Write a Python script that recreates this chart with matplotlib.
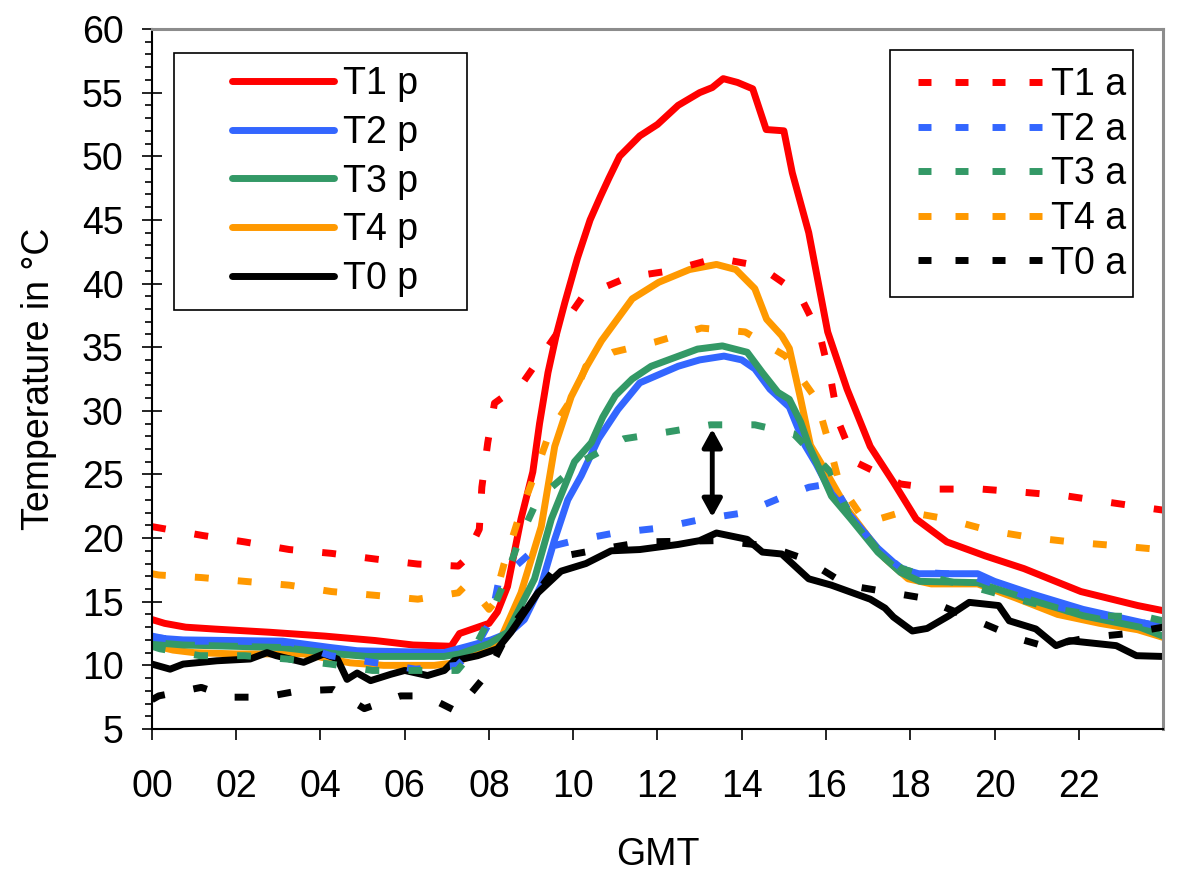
import matplotlib
matplotlib.use('Agg')
import matplotlib.pyplot as plt
from matplotlib.lines import Line2D
from matplotlib.patches import Rectangle
from matplotlib.ticker import MultipleLocator

plt.rcParams['font.family'] = ['Liberation Sans', 'DejaVu Sans']

# hours (GMT) and temperatures
t1p_h = [0, 0.3, 0.8, 1.5, 2.8, 4.1, 5.3, 6.2, 7.1, 7.3, 7.65, 8.0, 8.2, 8.44, 8.76, 9.04, 9.2, 9.4,
         9.6, 9.8, 10.1, 10.4, 10.64, 10.85, 11.1, 11.58, 12.0, 12.49, 13.0, 13.3, 13.56, 13.9, 14.26, 14.58,
         15.0, 15.2, 15.59, 16.04, 16.5, 17.05, 17.6, 18.14, 18.87, 19.78, 20.7, 22.05, 23.4, 24.0]
t1p_t = [13.6, 13.3, 13.0, 12.85, 12.6, 12.3, 11.95, 11.6, 11.5, 12.5, 12.9, 13.3, 14.2, 16.2, 21.5,
         25.2, 29.0, 33.0, 36.0, 38.5, 42.0, 45.0, 46.8, 48.3, 50.0, 51.6, 52.5, 54.0, 55.0, 55.4, 56.1, 55.8,
         55.3, 52.1, 52.0, 48.7, 44.0, 36.2, 31.7, 27.2, 24.4, 21.5, 19.7, 18.6, 17.6, 15.8, 14.7, 14.3]

t2p_h = [0, 0.3, 0.74, 3.1, 4.24, 4.87, 6.93, 7.5, 8.05, 8.5, 8.84, 9.24, 9.56, 9.87, 10.19, 10.6,
         11.06, 11.58, 12.49, 13.0, 13.58, 14.0, 14.31, 14.67, 15.13, 15.5, 15.77, 16.13, 16.59, 17.23,
         17.77, 18.2, 19.6, 20.0, 20.9, 22.1, 23.45, 24.0]
t2p_t = [12.3, 12.1, 12.0, 11.9, 11.4, 11.15, 11.0, 11.5, 12.0, 12.6, 13.6, 16.3, 19.9, 23.0, 24.9,
         27.8, 30.1, 32.2, 33.5, 34.0, 34.3, 34.0, 33.3, 31.7, 30.3, 27.3, 25.8, 23.5, 21.7, 19.2,
         17.6, 17.2, 17.2, 16.6, 15.6, 14.4, 13.4, 13.0]

t3p_h = [0, 0.74, 3.1, 4.4, 5.1, 6.93, 7.3, 7.65, 8.0, 8.44, 9.08, 9.48, 10.03, 10.43, 10.7, 11.0,
         11.4, 11.85, 12.95, 13.54, 14.13, 14.49, 14.86, 15.13, 15.4, 15.59, 15.77, 16.13, 16.59,
         17.23, 17.77, 18.23, 19.6, 20.05, 20.9, 22.1, 23.45, 24.0]
t3p_t = [11.8, 11.6, 11.4, 10.9, 10.7, 10.7, 10.9, 11.3, 11.7, 12.6, 16.8, 21.5, 26.0, 27.5, 29.5,
         31.2, 32.5, 33.5, 34.85, 35.1, 34.6, 33.0, 31.45, 30.9, 29.1, 27.3, 26.0, 23.3, 21.5, 18.9,
         17.3, 16.6, 16.5, 16.0, 15.1, 13.9, 13.0, 12.3]

t4p_h = [0, 0.5, 1.0, 2.0, 3.0, 3.6, 4.7, 5.5, 6.7, 7.2, 7.6, 8.2, 8.76, 9.24, 9.56, 9.95, 10.32,
         10.67, 11.4, 12.03, 12.76, 13.4, 13.86, 14.31, 14.59, 14.95, 15.13, 15.4, 15.63, 15.95, 16.5,
         17.05, 17.4, 17.95, 18.5, 19.6, 20.5, 21.5, 22.5, 23.4, 24.0]
t4p_t = [11.6, 11.2, 11.0, 10.9, 10.9, 10.9, 10.2, 10.0, 10.0, 10.2, 10.8, 11.5, 15.7, 20.9, 27.2,
         31.1, 33.5, 35.5, 38.8, 40.1, 41.1, 41.5, 41.1, 39.6, 37.2, 35.9, 34.9, 30.9, 27.3, 25.5,
         22.3, 19.9, 18.4, 16.8, 16.4, 16.4, 15.3, 14.0, 13.3, 12.8, 12.2]

t0p_h = [0, 0.43, 0.74, 1.54, 2.33, 2.73, 2.95, 3.6, 4.08, 4.4, 4.63, 4.87, 5.19, 5.67, 6.0, 6.54,
         6.94, 7.17, 7.73, 8.2, 8.52, 9.16, 9.71, 10.3, 10.9, 11.58, 12.49, 13.0, 13.4, 14.13, 14.49,
         14.95, 15.59, 16.13, 17.05, 17.4, 17.6, 18.05, 18.4, 18.92, 19.4, 20.1, 20.35, 20.98, 21.46,
         21.78, 22.89, 23.37, 24.0]
t0p_t = [10.1, 9.7, 10.1, 10.36, 10.5, 11.0, 10.76, 10.24, 10.9, 10.5, 8.9, 9.4, 8.8, 9.3, 9.6, 9.2,
         9.6, 10.36, 10.76, 11.3, 12.6, 15.7, 17.4, 18.0, 19.0, 19.1, 19.5, 19.8, 20.4, 19.9, 18.9,
         18.75, 16.8, 16.3, 15.2, 14.5, 13.8, 12.7, 12.9, 13.9, 14.95, 14.7, 13.5, 12.86, 11.55,
         11.94, 11.55, 10.76, 10.7]

t1a_h = [0, 1.21, 2.2, 3.26, 4.26, 5.31, 6.31, 7.27, 7.4, 7.77, 7.83, 7.97, 8.13, 8.8, 9.43, 10.23,
         11.3, 12.3, 13.4, 14.4, 15.36, 15.86, 16.13, 16.3, 16.68, 17.77, 18.69, 19.69, 20.69, 21.74,
         22.74, 23.78, 24.0]
t1a_t = [20.9, 20.2, 19.7, 19.1, 18.8, 18.35, 17.96, 17.8, 18.2, 20.7, 24.0, 27.5, 30.6, 32.2, 35.2,
         39.0, 40.5, 41.0, 42.0, 41.4, 39.2, 35.9, 32.2, 29.1, 26.0, 24.25, 23.85, 23.85, 23.6, 23.3,
         22.8, 22.3, 22.2]

t2a_h = [0, 1.0, 2.0, 3.3, 4.24, 5.23, 6.26, 7.25, 7.7, 8.05, 8.23, 9.04, 10.03, 10.98, 12.08,
         13.08, 14.08, 15.09, 15.6, 16.15, 16.6, 17.2, 17.8, 18.3, 19.4, 20.3, 21.3, 22.3, 23.3, 24.0]
t2a_t = [12.2, 11.9, 11.9, 11.8, 10.76, 10.24, 9.7, 10.0, 11.5, 13.6, 16.6, 19.0, 19.8, 20.4, 20.8,
         21.5, 22.0, 23.4, 24.0, 24.3, 21.8, 19.2, 17.6, 17.3, 17.1, 16.0, 14.7, 14.1, 13.5, 13.0]

t3a_h = [0, 0.19, 1.14, 2.2, 3.2, 4.24, 5.23, 6.26, 7.25, 7.6, 7.97, 8.36, 8.72, 9.16, 10.19, 11.2,
         12.26, 13.26, 14.31, 15.23, 16.1, 16.54, 17.2, 17.8, 18.4, 19.56, 20.55, 21.5, 22.5, 23.6, 24.0]
t3a_t = [11.5, 11.3, 10.76, 10.76, 10.5, 10.1, 9.6, 9.6, 9.6, 11.0, 13.4, 16.5, 19.9, 23.07, 26.0,
         27.8, 28.35, 28.9, 28.9, 28.2, 25.2, 21.9, 19.2, 17.6, 17.0, 16.1, 15.2, 14.4, 13.9, 13.8, 13.5]

t4a_h = [0, 0.16, 1.17, 2.2, 3.26, 4.26, 5.31, 6.31, 7.27, 7.45, 7.7, 8.0, 8.1, 8.36, 8.72, 9.04,
         9.44, 10.05, 10.3, 10.94, 11.94, 13.04, 14.08, 15.04, 15.77, 16.04, 16.32, 16.95, 17.86,
         18.87, 19.87, 20.87, 21.92, 22.92, 23.93, 24.0]
t4a_t = [17.2, 17.1, 16.9, 16.6, 16.3, 15.8, 15.5, 15.2, 15.7, 16.3, 15.6, 14.4, 14.8, 18.0, 21.75,
         24.6, 28.3, 31.4, 33.5, 34.6, 35.4, 36.5, 36.2, 34.3, 30.9, 27.8, 24.25, 21.2, 22.1, 21.5,
         20.6, 20.05, 19.66, 19.4, 19.1, 19.1]

t0a_h = [0, 0.16, 1.17, 1.85, 2.67, 3.49, 4.31, 5.04, 5.9, 6.5, 7.22, 7.97, 8.5, 9.79, 10.6, 11.67,
         13.4, 14.59, 15.5, 16.5, 18.29, 19.87, 20.6, 21.2, 22.25, 23.05, 24.0]
t0a_t = [7.3, 7.6, 8.27, 7.5, 7.5, 8.0, 8.1, 6.6, 7.6, 7.6, 6.4, 9.4, 12.86, 18.6, 19.1, 19.7, 19.8,
         19.4, 18.35, 16.3, 15.3, 13.1, 12.07, 11.5, 12.2, 12.46, 13.0]

xticks = [0, 2, 4, 6, 8, 10, 12, 14, 16, 18, 20, 22]
xlabels = ['00', '02', '04', '06', '08', '10', '12', '14', '16', '18', '20', '22']

RED = '#ff0000'
BLUE = '#3366ff'
GREEN = '#339966'
ORANGE = '#ff9900'
BLACK = '#000000'

fig = plt.figure(figsize=(12.03, 8.75), dpi=100)
ax = fig.add_axes([0.12635, 0.16686, 0.8404, 0.8])

lw = 5
dash_plot = (0, (2.0, 4.2))
dash_leg = (0, (1.87, 3.46))

solid = dict(lw=lw, solid_capstyle='round', solid_joinstyle='round')
ax.plot(t1p_h, t1p_t, color=RED, **solid)
ax.plot(t4p_h, t4p_t, color=ORANGE, **solid)
ax.plot(t2p_h, t2p_t, color=BLUE, **solid)
ax.plot(t3p_h, t3p_t, color=GREEN, **solid)
ax.plot(t0p_h, t0p_t, color=BLACK, **solid)

dashed = dict(lw=lw, ls=dash_plot, dash_capstyle='butt')
ax.plot(t1a_h, t1a_t, color=RED, **dashed)
ax.plot(t2a_h, t2a_t, color=BLUE, **dashed)
ax.plot(t3a_h, t3a_t, color=GREEN, **dashed)
ax.plot(t4a_h, t4a_t, color=ORANGE, **dashed)
ax.plot(t0a_h, t0a_t, color=BLACK, **dashed)

ax.annotate('', xy=(13.3, 21.65), xytext=(13.3, 28.57),
            arrowprops=dict(arrowstyle='<|-|>,head_length=0.4,head_width=0.22',
                            color='black', lw=3.5, mutation_scale=27, shrinkA=0, shrinkB=0))

ax.set_xlim(0, 24)
ax.set_ylim(5, 60)
ax.set_xticks(xticks)
ax.set_xticklabels(xlabels)
ax.yaxis.set_major_locator(MultipleLocator(5))
ax.yaxis.set_minor_locator(MultipleLocator(1))
ax.tick_params(axis='y', which='major', direction='inout', length=15, width=1.2,
               labelsize=27, pad=13)
ax.tick_params(axis='y', which='minor', direction='out', length=5, width=1.2)
ax.tick_params(axis='x', which='major', direction='out', length=8, width=1.2,
               labelsize=27, pad=21)

for s in ['left', 'bottom']:
    ax.spines[s].set_color('black')
    ax.spines[s].set_linewidth(1.5)
for s in ['top', 'right']:
    ax.spines[s].set_color('#8c8c8c')
    ax.spines[s].set_linewidth(2.2)

ax.set_ylabel('Temperature in °C', fontsize=27, labelpad=18)
ax.set_xlabel('GMT', fontsize=27, labelpad=23)

# legend for measured (solid) series
h1 = [Line2D([], [], color=c, lw=lw, solid_capstyle='round') for c in [RED, BLUE, GREEN, ORANGE, BLACK]]
leg1 = ax.legend(h1, ['T1 p', 'T2 p', 'T3 p', 'T4 p', 'T0 p'], loc='upper left',
                 bbox_to_anchor=(0.0791, 0.947), frameon=False, fontsize=27,
                 handlelength=2.72, handletextpad=0.23, labelspacing=0.34,
                 borderpad=0, borderaxespad=0)
ax.add_artist(leg1)
ax.add_patch(Rectangle((0.02176, 0.5986), 0.2898, 0.3671, transform=ax.transAxes,
                       facecolor='white', edgecolor='black', lw=1.2, zorder=4.5, clip_on=False))

h2 = [Line2D([], [], color=c, lw=lw, ls=dash_leg, dash_capstyle='butt')
      for c in [RED, BLUE, GREEN, ORANGE, BLACK]]
leg2 = ax.legend(h2, ['T1 a', 'T2 a', 'T3 a', 'T4 a', 'T0 a'], loc='upper left',
                 bbox_to_anchor=(0.758, 0.9457), frameon=False, fontsize=27,
                 handlelength=3.31, handletextpad=0.235, labelspacing=0.23,
                 borderpad=0, borderaxespad=0)
ax.add_patch(Rectangle((0.730, 0.6171), 0.2403, 0.3529, transform=ax.transAxes,
                       facecolor='white', edgecolor='black', lw=1.2, zorder=4.5, clip_on=False))

fig.savefig('out.png', dpi=100)
